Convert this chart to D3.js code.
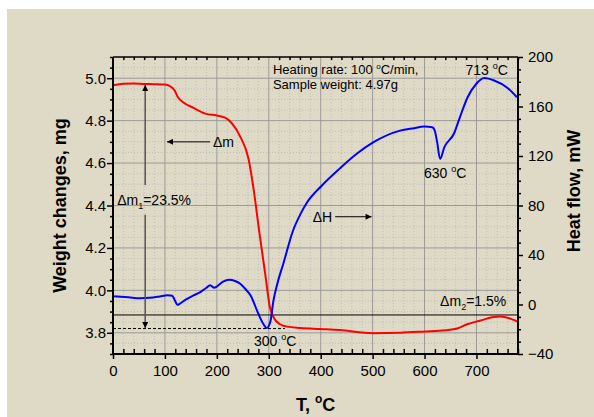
<!DOCTYPE html>
<html>
<head>
<meta charset="utf-8">
<script src="https://cdn.jsdelivr.net/npm/d3@7"></script>
<style>
  body { margin: 0; background: #fff; }
  svg { display: block; font-family: Arial, "Liberation Sans", sans-serif; }
  .tick text { font-size: 15px; fill: #000; }
  .axis-title { font-size: 18px; font-weight: bold; }
  .note { font-size: 14px; fill: #000; }
</style>
</head>
<body>
<svg id="chart"></svg>
<script>
// TG curve: temperature (°C) and sample weight (mg)
const tgTemp   = [0, 20, 40, 60, 80, 100, 110, 118, 125, 135, 155, 178, 200, 215, 228, 245, 261, 270, 283, 293, 302, 310, 322, 335, 361, 400, 437, 500, 553, 600, 640, 663, 682, 708, 730, 745, 758, 770, 780];
const tgWeight = [4.967, 4.974, 4.975, 4.973, 4.972, 4.970, 4.962, 4.945, 4.91, 4.887, 4.86, 4.833, 4.824, 4.815, 4.79, 4.725, 4.62, 4.49, 4.253, 4.08, 3.923, 3.87, 3.84, 3.829, 3.823, 3.818, 3.813, 3.798, 3.800, 3.806, 3.812, 3.820, 3.840, 3.858, 3.873, 3.877, 3.872, 3.862, 3.852];

// DSC curve: temperature (°C) and heat flow (mW)
const dscTemp = [0, 30, 52, 71, 90, 105, 114, 119, 124, 130, 140, 155, 168, 180, 187, 195, 200, 212, 224, 235, 245, 255, 265, 280, 290, 296, 303, 309, 316, 328, 347, 361, 373, 402, 437, 470, 501, 553, 580, 599, 615, 620, 624, 630, 638, 657, 667, 683, 699, 715, 734, 760, 778];
const dscHeat = [6.7, 5.8, 5.1, 5.4, 6.5, 7.5, 7.0, 3.5, -0.3, 1.0, 4.0, 7.3, 10, 13.5, 15.6, 13.5, 14.5, 18.5, 20, 19, 16.7, 12.5, 7.3, -7.5, -16, -19, -14, 3, 16, 33, 60, 73, 82, 96, 110, 122, 131, 140.5, 142.5, 143.8, 143.3, 140, 132, 117.7, 127, 138.4, 150, 167.5, 178, 183, 181, 175, 167.5];

// axes
const xTicks = [0, 100, 200, 300, 400, 500, 600, 700];
const weightTicks = [3.8, 4.0, 4.2, 4.4, 4.6, 4.8, 5.0];
const heatTicks = [-40, 0, 40, 80, 120, 160, 200];

// reference levels (mg)
const finalLevel = 3.884;
const dashedLevel = 3.820;

class ThermoChart {

  constructor(_config) {
    this.config = {
      parentElement: _config.parentElement,
      containerWidth: _config.containerWidth || 594,
      containerHeight: _config.containerHeight || 417,
      margin: _config.margin || {top: 57, right: 76, bottom: 63, left: 113}
    }
    this.initVis();
  }

  initVis() {
    let vis = this;

    vis.width = vis.config.containerWidth - vis.config.margin.left - vis.config.margin.right;
    vis.height = vis.config.containerHeight - vis.config.margin.top - vis.config.margin.bottom;

    vis.xScale = d3.scaleLinear().domain([0, 780]).range([0, vis.width]);
    vis.yWeight = d3.scaleLinear().domain([3.7, 5.1]).range([vis.height, 0]);
    vis.yHeat = d3.scaleLinear().domain([-40, 200]).range([vis.height, 0]);

    vis.svg = d3.select(vis.config.parentElement)
        .attr('width', vis.config.containerWidth)
        .attr('height', vis.config.containerHeight);

    // beige panel
    vis.svg.append('rect')
        .attr('x', 7).attr('y', 9)
        .attr('width', vis.config.containerWidth - 7)
        .attr('height', vis.config.containerHeight - 9)
        .attr('fill', '#dedac6');

    const defs = vis.svg.append('defs');
    defs.append('marker')
        .attr('id', 'head')
        .attr('viewBox', '0 0 10 10')
        .attr('refX', 10).attr('refY', 5)
        .attr('markerWidth', 9).attr('markerHeight', 6)
        .attr('markerUnits', 'userSpaceOnUse')
        .attr('orient', 'auto')
      .append('path')
        .attr('d', 'M0,0L10,5L0,10Z')
        .attr('fill', '#000');
    defs.append('clipPath').attr('id', 'clip')
      .append('rect').attr('width', vis.width).attr('height', vis.height);

    vis.chart = vis.svg.append('g')
        .attr('transform', `translate(${vis.config.margin.left},${vis.config.margin.top})`);

    vis.renderVis();
  }

  renderVis() {
    let vis = this;
    const minorX = d3.range(0, 781, 20).filter(d => d % 100 !== 0);
    const minorW = d3.range(74, 103).map(d => d / 20).filter(d => Math.round(d * 20) % 4 !== 0);
    const minorH = d3.range(-40, 201, 10).filter(d => d % 40 !== 0);

    // grid
    const grid = vis.chart.append('g');
    grid.selectAll('.gx-minor').data(minorX).join('line')
        .attr('x1', d => vis.xScale(d)).attr('x2', d => vis.xScale(d))
        .attr('y1', 0).attr('y2', vis.height)
        .attr('stroke', '#bdbdbd').attr('stroke-dasharray', '1,2');
    grid.selectAll('.gy-minor').data(minorW).join('line')
        .attr('y1', d => vis.yWeight(d)).attr('y2', d => vis.yWeight(d))
        .attr('x1', 0).attr('x2', vis.width)
        .attr('stroke', '#bdbdbd').attr('stroke-dasharray', '1,2');
    grid.selectAll('.gx-major').data(xTicks).join('line')
        .attr('x1', d => vis.xScale(d)).attr('x2', d => vis.xScale(d))
        .attr('y1', 0).attr('y2', vis.height)
        .attr('stroke', '#9a9a9a');
    grid.selectAll('.gy-major').data(weightTicks).join('line')
        .attr('y1', d => vis.yWeight(d)).attr('y2', d => vis.yWeight(d))
        .attr('x1', 0).attr('x2', vis.width)
        .attr('stroke', '#9a9a9a');

    // reference lines
    vis.chart.append('line')
        .attr('x1', 0).attr('x2', vis.width)
        .attr('y1', vis.yWeight(finalLevel)).attr('y2', vis.yWeight(finalLevel))
        .attr('stroke', '#000').attr('stroke-width', 1);
    vis.chart.append('line')
        .attr('x1', 0).attr('x2', vis.xScale(331))
        .attr('y1', vis.yWeight(dashedLevel)).attr('y2', vis.yWeight(dashedLevel))
        .attr('stroke', '#000').attr('stroke-width', 1).attr('stroke-dasharray', '3,2');

    // curves
    const tg = tgTemp.map((t, i) => [t, tgWeight[i]]);
    const dsc = dscTemp.map((t, i) => [t, dscHeat[i]]);
    const marks = vis.chart.append('g').attr('clip-path', 'url(#clip)');
    marks.append('path').datum(tg)
        .attr('d', d3.line().x(d => vis.xScale(d[0])).y(d => vis.yWeight(d[1])).curve(d3.curveMonotoneX))
        .attr('fill', 'none').attr('stroke', '#ff0000').attr('stroke-width', 2);
    marks.append('path').datum(dsc)
        .attr('d', d3.line().x(d => vis.xScale(d[0])).y(d => vis.yHeat(d[1])).curve(d3.curveMonotoneX))
        .attr('fill', 'none').attr('stroke', '#0000ff').attr('stroke-width', 2);

    // arrows
    const arrow = (t1, w1, t2, w2, color, sw) => vis.chart.append('line')
        .attr('x1', vis.xScale(t1)).attr('y1', vis.yWeight(w1))
        .attr('x2', vis.xScale(t2)).attr('y2', vis.yWeight(w2))
        .attr('stroke', color).attr('stroke-width', sw)
        .attr('marker-end', 'url(#head)');
    arrow(62, 4.497, 62, 4.968, '#555', 1.5);
    arrow(62, 4.356, 62, 3.822, '#555', 1.5);
    arrow(187, 4.70, 104, 4.70, '#000', 1);
    arrow(428, 4.347, 498, 4.347, '#000', 1);

    // axes
    const bottom = vis.chart.append('g').attr('transform', `translate(0,${vis.height})`);
    bottom.call(d3.axisBottom(vis.xScale).tickValues(minorX).tickSize(-5).tickFormat(''));
    bottom.append('g').call(d3.axisBottom(vis.xScale).tickValues(xTicks).tickSize(5).tickPadding(6));
    vis.chart.append('g')
        .call(d3.axisTop(vis.xScale).tickValues(minorX).tickSize(-3).tickFormat(''));
    const left = vis.chart.append('g');
    left.call(d3.axisLeft(vis.yWeight).tickValues(minorW).tickSize(3).tickFormat(''));
    left.append('g').call(d3.axisLeft(vis.yWeight).tickValues(weightTicks).tickSize(6).tickPadding(1).tickFormat(d3.format('.1f')));
    const right = vis.chart.append('g').attr('transform', `translate(${vis.width},0)`);
    right.call(d3.axisRight(vis.yHeat).tickValues(minorH).tickSize(3).tickFormat(''));
    right.append('g').call(d3.axisRight(vis.yHeat).tickValues(heatTicks).tickSize(5).tickPadding(5));
    vis.chart.selectAll('.domain').remove();
    vis.chart.selectAll('.tick line').attr('stroke', '#000').attr('stroke-width', 1.5);

    // frame
    vis.chart.append('path')
        .attr('d', `M0,0V${vis.height}H${vis.width}V0`)
        .attr('fill', 'none').attr('stroke', '#000').attr('stroke-width', 2);
    vis.chart.append('line').attr('x1', 0).attr('x2', vis.width)
        .attr('stroke', '#000').attr('stroke-width', 1.5);

    // annotations
    const note = (t, w, size) => vis.chart.append('text')
        .attr('class', 'note')
        .attr('x', vis.xScale(t)).attr('y', vis.yWeight(w))
        .style('font-size', size + 'px');
    const degree = (sel, pre) => {
      sel.append('tspan').text(pre);
      sel.append('tspan').text('o').attr('dy', -6).style('font-size', '9px');
      sel.append('tspan').text('C').attr('dy', 6);
      return sel;
    };
    const heating = note(308, 5.02, 13);
    heating.append('tspan').text('Heating rate: 100 ');
    heating.append('tspan').text('o').attr('dy', -5).style('font-size', '8px');
    heating.append('tspan').text('C/min,').attr('dy', 5);
    note(308, 4.947, 13).text('Sample weight: 4.97g');
    degree(note(679, 5.015, 14), '713 ');
    degree(note(599, 4.528, 14), '630 ');
    degree(note(271.5, 3.739, 14), '300 ');
    const dm1 = note(8, 4.402, 14);
    dm1.append('tspan').text('\u0394m');
    dm1.append('tspan').text('1').attr('dy', 4).style('font-size', '9px');
    dm1.append('tspan').text('=23.5%').attr('dy', -4);
    const dm2 = note(630, 3.926, 14);
    dm2.append('tspan').text('\u0394m');
    dm2.append('tspan').text('2').attr('dy', 4).style('font-size', '9px');
    dm2.append('tspan').text('=1.5%').attr('dy', -4);
    note(192.6, 4.674, 14).text('\u0394m');
    note(384.6, 4.321, 14).text('\u0394H');

    // axis titles
    vis.chart.append('text').attr('class', 'axis-title')
        .attr('transform', `translate(${66 - vis.config.margin.left},${vis.height / 2}) rotate(-90)`)
        .attr('text-anchor', 'middle')
        .text('Weight changes, mg');
    vis.chart.append('text').attr('class', 'axis-title')
        .attr('transform', `translate(${580 - vis.config.margin.left},${191 - vis.config.margin.top}) rotate(-90)`)
        .attr('text-anchor', 'middle')
        .text('Heat flow, mW');
    const xt = vis.chart.append('text').attr('class', 'axis-title')
        .attr('x', 296 - vis.config.margin.left).attr('y', 411 - vis.config.margin.top);
    xt.append('tspan').text('T, ');
    xt.append('tspan').text('o').attr('dy', -8).style('font-size', '12px');
    xt.append('tspan').text('C').attr('dy', 8);
  }
}

new ThermoChart({parentElement: '#chart'});
</script>
</body>
</html>
